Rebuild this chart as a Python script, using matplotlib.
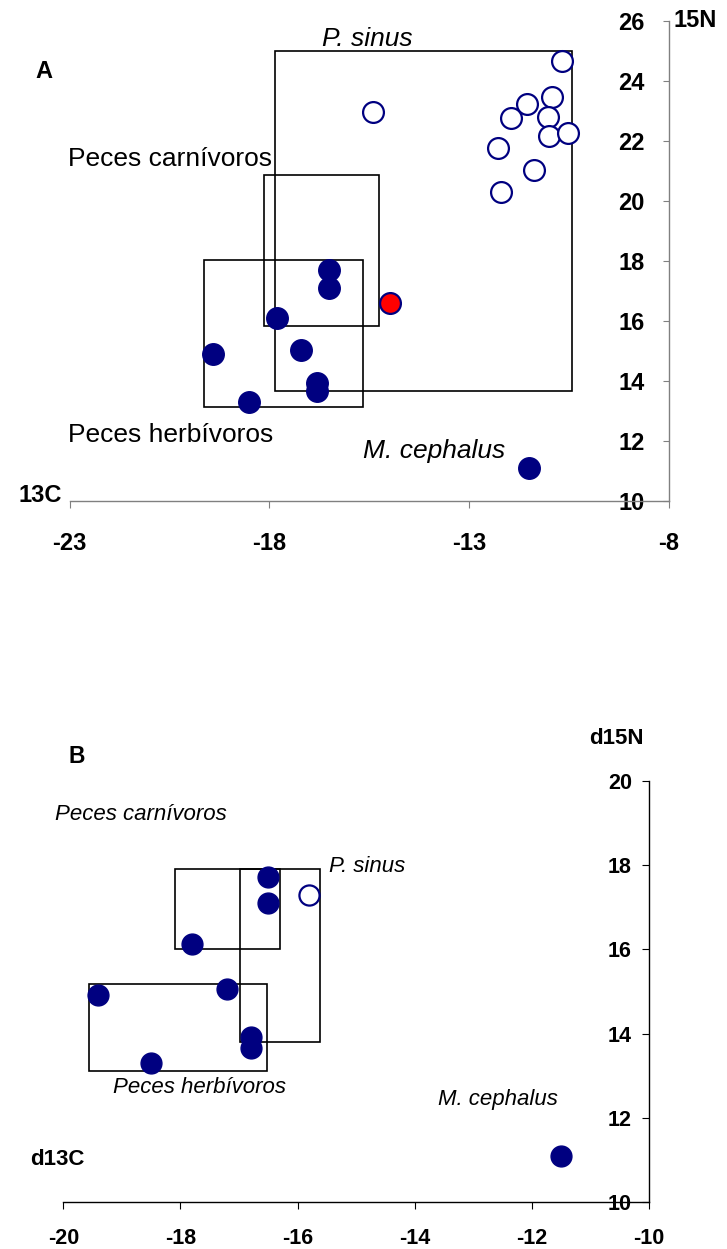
import matplotlib.pyplot as plt
from matplotlib.patches import Rectangle

plt.rcParams['font.family'] = ['Liberation Sans', 'DejaVu Sans']

NAVY = '#000080'

# panel A - P. sinus (open), fish (filled), red point
sinus_x = [-10.67, -15.40, -11.95, -11.54, -10.93, -11.02, -11.00, -10.53, -12.27, -11.38, -12.20]
sinus_y = [24.66, 22.97, 22.75, 23.23, 23.47, 22.80, 22.16, 22.28, 21.78, 21.02, 20.31]
red_x = [-14.97]
red_y = [16.59]
fish_x = [-16.5, -16.5, -17.8, -19.4, -17.2, -16.8, -16.8, -18.5, -11.5]
fish_y = [17.72, 17.09, 16.11, 14.9, 15.05, 13.95, 13.69, 13.31, 11.1]

# boxes: (x0, x1, y0, y1)
boxes_a = [(-17.85, -10.43, 13.67, 25.0),
           (-18.14, -15.26, 15.83, 20.86),
           (-19.64, -15.65, 13.14, 18.05)]

xticks_a = [-23, -18, -13, -8]
yticks_a = [10, 12, 14, 16, 18, 20, 22, 24, 26]

# panel B
sinus_b_x = [-15.81]
sinus_b_y = [17.30]
fish_b_x = [-16.5, -16.5, -17.8, -19.4, -17.21, -16.8, -16.8, -18.5, -11.5]
fish_b_y = [17.72, 17.10, 16.12, 14.92, 15.05, 13.91, 13.67, 13.30, 11.10]

boxes_b = [(-18.09, -16.30, 16.02, 17.91),
           (-16.99, -15.62, 13.79, 17.91),
           (-19.57, -16.53, 13.12, 15.18)]

xticks_b = [-20, -18, -16, -14, -12, -10]
yticks_b = [10, 12, 14, 16, 18, 20]


def style_axes(ax, xlim, ylim, xticks, yticks, color, fs, xpad, ypad, ylen):
    ax.set_xlim(*xlim)
    ax.set_ylim(*ylim)
    ax.spines['top'].set_visible(False)
    ax.spines['right'].set_visible(False)
    ax.spines['left'].set_position(('data', xlim[1]))
    for s in ('left', 'bottom'):
        ax.spines[s].set_color(color)
        ax.spines[s].set_linewidth(1.0)
    ax.set_xticks(xticks)
    ax.set_yticks(yticks)
    ax.set_xticklabels([str(t) for t in xticks], fontsize=fs, fontweight='bold')
    ax.set_yticklabels([str(t) for t in yticks], fontsize=fs, fontweight='bold')
    ax.tick_params(axis='x', direction='out', length=5, color=color, pad=xpad)
    ax.tick_params(axis='y', direction='out', length=ylen, color=color, pad=ypad)
    ax.patch.set_alpha(0)


fig = plt.figure(figsize=(7.27, 12.49), dpi=100)

# ---- panel A
ax = fig.add_axes([0.0956, 0.5985, 0.824, 0.3849])
style_axes(ax, (-23, -8), (10, 26), xticks_a, yticks_a, '#808080', 17, 17, 13, 4)
for x0, x1, y0, y1 in boxes_a:
    ax.add_patch(Rectangle((x0, y0), x1 - x0, y1 - y0, fill=False, ec='black', lw=1.2, zorder=2))
ax.plot(sinus_x, sinus_y, 'o', ms=15, mfc='white', mec=NAVY, mew=1.6, zorder=3)
ax.plot(fish_x, fish_y, 'o', ms=15.5, mfc=NAVY, mec=NAVY, zorder=3)
ax.plot(red_x, red_y, 'o', ms=15, mfc='red', mec=NAVY, mew=1.6, zorder=3)

ax.text(-15.55, 25.38, 'P. sinus', fontsize=19, style='italic', ha='center', va='center')
ax.text(-23.03, 21.41, 'Peces carnívoros', fontsize=19, ha='left', va='center')
ax.text(-23.03, 12.2, 'Peces herbívoros', fontsize=19, ha='left', va='center')
ax.text(-15.64, 11.67, 'M. cephalus', fontsize=19, style='italic', ha='left', va='center')
ax.text(-23.65, 24.3, 'A', fontsize=17, fontweight='bold', ha='center', va='center')
ax.text(-23.2, 10.2, '13C', fontsize=17, fontweight='bold', ha='right', va='center')
ax.text(-7.87, 26.0, '15N', fontsize=17, fontweight='bold', ha='left', va='center')

# ---- panel B
bx = fig.add_axes([0.0871, 0.0376, 0.8056, 0.3371])
style_axes(bx, (-20, -10), (10, 20), xticks_b, yticks_b, 'black', 15.5, 14, 7.5, 4.8)
for x0, x1, y0, y1 in boxes_b:
    bx.add_patch(Rectangle((x0, y0), x1 - x0, y1 - y0, fill=False, ec='black', lw=1.2, zorder=2))
bx.plot(sinus_b_x, sinus_b_y, 'o', ms=14.5, mfc='white', mec=NAVY, mew=1.6, zorder=3)
bx.plot(fish_b_x, fish_b_y, 'o', ms=15, mfc=NAVY, mec=NAVY, zorder=3)

bx.text(-19.77, 20.59, 'B', fontsize=16.5, fontweight='bold', ha='center', va='center')
bx.text(-10.56, 21.0, 'd15N', fontsize=16, fontweight='bold', ha='center', va='center')
bx.text(-20.14, 19.21, 'Peces carnívoros', fontsize=16, style='italic', ha='left', va='center')
bx.text(-15.47, 17.97, 'P. sinus', fontsize=16, style='italic', ha='left', va='center')
bx.text(-19.15, 12.72, 'Peces herbívoros', fontsize=16, style='italic', ha='left', va='center')
bx.text(-13.6, 12.43, 'M. cephalus', fontsize=16, style='italic', ha='left', va='center')
bx.text(-20.56, 11.0, 'd13C', fontsize=16, fontweight='bold', ha='left', va='center')

fig.savefig('out.png', dpi=100, facecolor='white')
